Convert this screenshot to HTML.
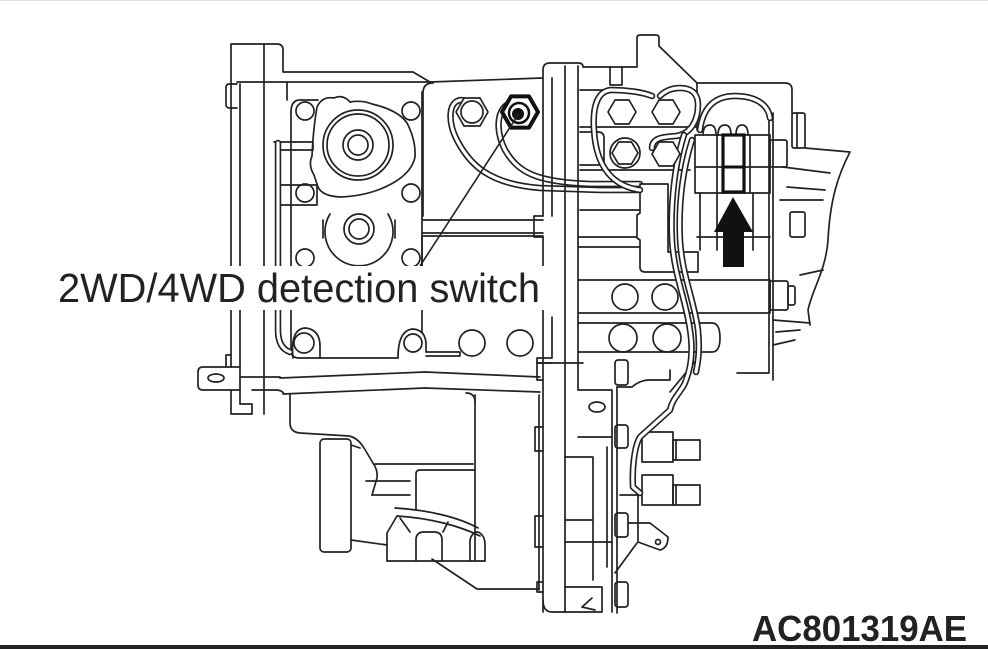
<!DOCTYPE html>
<html><head><meta charset="utf-8"><style>
html,body{margin:0;padding:0;background:#fff;width:988px;height:649px;overflow:hidden}
svg{display:block}
.s{fill:none;stroke:#222;stroke-width:1.7;stroke-linejoin:round;stroke-linecap:round}
.w{fill:#fff;stroke:#222;stroke-width:1.7;stroke-linejoin:round}
.to{fill:none;stroke:#222;stroke-width:6.5;stroke-linecap:round;stroke-linejoin:round}
.ti{fill:none;stroke:#fff;stroke-width:3.2;stroke-linecap:round;stroke-linejoin:round}
</style></head><body>
<svg width="988" height="649" viewBox="0 0 988 649" xmlns="http://www.w3.org/2000/svg">
<rect width="988" height="649" fill="#fff"/>
<line x1="0" y1="0.5" x2="988" y2="0.5" stroke="#ddd" stroke-width="1"/>
<rect x="0" y="645" width="988" height="4" fill="#222"/>

<!-- ===== LEFT HOUSING ===== -->
<g class="s">
<path d="M231,367 V44 H277 Q283,44 283,50 V72 H413 L430,82 L542,78"/>
<path d="M231,390 V414 H252 V404 H240"/>
<path d="M264,44 V414"/>
<path d="M240,84 V404"/>
<path d="M237,82 H420 L430,82"/>
<path d="M287,82 V100"/>
<path d="M237,84 H229 Q226,84 226,88 V104 Q226,108 229,108 H237"/>
<path d="M231,355 H226 V367"/>
<path d="M240,367 H203 Q198,367 198,372 V385 Q198,390 203,390 H240"/>
<ellipse cx="216" cy="378" rx="8" ry="4"/>
<path d="M240,377 H280"/>
<path d="M252,390 H276 Q282,390 284,394"/>
<!-- rails -->
<path d="M280,378 L425,372 L540,377"/>
<path d="M283,394 L425,388 L540,392"/>

<!-- bolt panel -->
<path d="M291,112 Q291,100 300,100 H318"/>
<path d="M291,112 V350 Q291,358 299,358 H398"/>
<path d="M422,92 V333"/>
<path d="M398,358 Q398,330 413,329 Q426,330 426,345 V352 H460 V356 H426"/>
<path d="M293,358 Q290,328 306,328 Q320,330 320,346 V358"/>
<circle cx="304" cy="343" r="10"/>
<circle cx="413" cy="343" r="9"/>
<circle cx="472" cy="343" r="13"/>
<circle cx="520" cy="343" r="13"/>
<circle cx="305" cy="111" r="9"/>
<circle cx="411" cy="111" r="9"/>
<circle cx="305" cy="193" r="9"/>
<circle cx="411" cy="193" r="9"/>
<circle cx="305" cy="258" r="9"/>
<circle cx="411" cy="258" r="9"/>
<!-- clips -->
<path d="M274,142 H313 V150 H281"/>
<path d="M281,185 H317 V205 H281"/>

<!-- gear boss lobed shape -->
<path d="M317,107 Q322,96 334,98 Q343,94 350,102 Q362,100 372,104 Q398,110 407,123 Q416,140 415,157 Q412,172 393,183 Q370,196 340,197 Q322,196 318,187 L314,175 Q308,165 312,156 Q313,130 317,107 Z"/>
<circle cx="358" cy="145" r="35"/>
<circle cx="358" cy="145" r="31"/>
<circle cx="358" cy="145" r="15"/>
<circle cx="358" cy="145" r="10"/>
<!-- lower boss -->
<path d="M330,214 A34,34 0 1 0 388,214"/>
<path d="M323,220 V238 M395,220 V238"/>
<circle cx="359" cy="229" r="15"/>
<circle cx="359" cy="229" r="10"/>

<!-- middle (switch) panel -->
<path d="M423,216 V93 Q423,83 433,83"/>
<path d="M422,220 H543 M422,233 H543"/>
<path d="M422,237 V300 M422,236 H543"/>
<path d="M552,317 V358 H537 V363 H552"/>
</g>

<!-- vertical pipe left -->
<path class="to" d="M278,143 V330 Q278,348 290,352"/>
<path class="ti" d="M278,143 V330 Q278,348 290,352"/>

<!-- tubes from nuts -->
<path class="to" d="M462,100 C448,100 447,122 458,142 C470,164 488,184 540,188 L600,190 L640,190"/>
<path class="ti" d="M462,100 C448,100 447,122 458,142 C470,164 488,184 540,188 L600,190 L640,190"/>
<path class="to" d="M508,104 C496,112 496,132 505,150 C518,172 535,182 590,184 L640,184"/>
<path class="ti" d="M508,104 C496,112 496,132 505,150 C518,172 535,182 590,184 L640,184"/>

<!-- nuts -->
<polygon class="w" points="488,112 480,98 464,98 456,112 464,126 480,126"/>
<circle class="s" cx="472" cy="112" r="11"/>
<polygon points="538,112 529,96.4 511,96.4 502,112 511,127.6 529,127.6" fill="#fff" stroke="#111" stroke-width="4" stroke-linejoin="round"/>
<circle cx="519" cy="113" r="10" fill="#fff" stroke="#111" stroke-width="2.5"/>
<circle cx="518" cy="114" r="6" fill="#111"/>
<!-- leader -->
<line x1="518" y1="115" x2="420" y2="266" stroke="#222" stroke-width="1.6"/>

<!-- ===== CENTRAL COLUMN & RIGHT ===== -->
<g class="s">
<path d="M543,216 V70 Q543,63 550,63 H578 Q583,63 583,67 H637 V38 Q637,35 640,35 H656 Q659,35 659,38 V46 L697,83"/>
<path d="M543,237 V612"/>
<path d="M552,78 V216"/>
<path d="M565,66 V612"/>
<path d="M578,66 V390"/>
<path d="M578,390 H612 V437 H578"/>
<ellipse cx="597" cy="407" rx="8" ry="5"/>
<path d="M612,437 V612"/>
<path d="M607,447 V567"/>
<path d="M593,457 V580 M565,457 H593 M565,520 H593 M565,542 H612"/>
<path d="M565,587 H602 V612 H565"/>
<path d="M582,607 L592,598 M582,607 L595,610"/>
<path d="M543,600 Q543,612 552,612 H565"/>
<!-- nubs left -->
<path d="M543,216 H534 V237 H543"/>
<path d="M543,363 H537 V380 H543 M539,363 H583"/>
<path d="M543,427 H535 V451 H543"/>
<path d="M543,516 H535 V547 H543"/>
<path d="M543,582 H537 V592 H543"/>
<!-- bolt heads right of column -->
<rect x="615" y="360" width="13" height="25" rx="3"/>
<rect x="615" y="425" width="13" height="23" rx="3"/>
<rect x="615" y="513" width="13" height="24" rx="3"/>
<rect x="615" y="582" width="13" height="25" rx="3"/>
<path d="M617,387 V613"/>
<path d="M617,387 H632 Q640,380 650,380 H670 V370"/>
<path d="M620,495 H638 V542 M628,523 H650 L668,537 Q668,548 660,550 L638,542"/>
<circle cx="658" cy="542" r="2.5"/>
<path d="M637,543 L615,573"/>
<path d="M698,358 L670,392"/>
<!-- right connectors -->
<rect x="642" y="432" width="31" height="30"/>
<rect x="673" y="440" width="27" height="20"/>
<path d="M676,440 V460"/>
<rect x="642" y="475" width="31" height="30"/>
<rect x="673" y="485" width="27" height="20"/>
<path d="M676,485 V505"/>

<!-- nut plate lines -->
<path d="M580,90 H610 M610,67 V85 H622 V67"/>
<path d="M580,127 H697"/>
<path d="M580,170 H690"/>
<path d="M580,132 H598 Q604,132 604,138 V165 H580"/>
<path d="M580,210 H640 M578,237 H640 M578,247 H640"/>
<!-- T bracket -->
<path d="M640,184 H668 V252 H698 V272 H645 Q640,272 640,267 V240 L637,238 V215 L640,213 Z" fill="#fff"/>
<!-- bands -->
<path d="M579,280 H770 V313 H579"/>
<circle cx="625" cy="297" r="13"/>
<circle cx="665" cy="297" r="13"/>
<path d="M579,323 H712 Q720,323 720,338 Q720,352 712,352 H579"/>
<circle cx="623" cy="338" r="14"/>
<circle cx="667" cy="338" r="14"/>
<rect x="770" y="281" width="18" height="29" rx="2"/>
<rect x="788" y="286" width="7" height="19" rx="2"/>
<!-- upper right frame -->
<path d="M697,83 H785 Q792,83 792,90 V113"/>
<path d="M697,83 V130"/>
<path d="M769,113 V373 H737 M773,113 V380"/>
<rect x="792" y="113" width="13" height="35" rx="2"/>
<path d="M797,113 V148"/>
<path d="M805,148 L850,152 C838,175 830,200 828,240 C826,270 812,290 808,310 L810,325"/>
<path d="M783,167 L830,173 M787,187 L825,190 M780,200 L823,200"/>
<rect x="790" y="212" width="15" height="25" rx="2"/>
<path d="M800,275 L823,270 M773,320 L810,323 M776,332 L800,330 M773,345 L795,340"/>
<rect x="770" y="140" width="17" height="27" rx="2"/>
<!-- connector -->
<rect x="695" y="135" width="75" height="58"/>
<path d="M717,135 V193 M750,135 V193 M695,167 H770"/>
<path d="M700,193 V250 M717,193 V250 M753,193 V250 M697,237 H770"/>
<!-- small loops on top -->
<path d="M703,135 Q703,125 710,125 Q716,125 716,135 M718,135 Q718,125 725,125 Q731,125 731,135 M736,135 Q736,125 742,125 Q748,125 748,135"/>
</g>
<!-- bold connector and arrow -->
<rect x="723" y="135" width="21" height="57" fill="none" stroke="#111" stroke-width="3.2"/>
<line x1="723" y1="167" x2="744" y2="167" stroke="#111" stroke-width="3"/>
<polygon points="733,197 714,232 723,232 723,267 744,267 744,232 753,232" fill="#111"/>

<!-- right tubes -->
<path class="to" d="M640,190 C612,186 596,166 594,130 C592,102 600,90 612,90 C626,90 642,92 652,96"/>
<path class="ti" d="M640,190 C612,186 596,166 594,130 C592,102 600,90 612,90 C626,90 642,92 652,96"/>
<path class="to" d="M652,148 C652,138 662,137 676,136 C691,134 698,120 698,105 C698,92 690,88 680,88 C670,88 664,92 660,96"/>
<path class="ti" d="M652,148 C652,138 662,137 676,136 C691,134 698,120 698,105 C698,92 690,88 680,88 C670,88 664,92 660,96"/>
<path class="to" d="M700,130 C703,106 716,96 735,96 C755,96 768,104 770,118"/>
<path class="ti" d="M700,130 C703,106 716,96 735,96 C755,96 768,104 770,118"/>
<path class="to" d="M684,135 C676,160 670,200 672,240 C674,275 686,300 690,330 C694,355 690,372 684,385 C678,395 672,400 670,410 L640,437 C634,447 632,470 633,487 L640,493"/>
<path class="ti" d="M684,135 C676,160 670,200 672,240 C674,275 686,300 690,330 C694,355 690,372 684,385 C678,395 672,400 670,410 L640,437 C634,447 632,470 633,487 L640,493"/>
<path class="to" d="M692,140 C684,165 678,200 680,240 C682,275 694,300 698,330 C700,350 698,362 696,372"/>
<path class="ti" d="M692,140 C684,165 678,200 680,240 C682,275 694,300 698,330 C700,350 698,362 696,372"/>

<!-- right nuts -->
<g>
<polygon class="w" points="636,112 629,100 615,100 608,112 615,124 629,124"/>
<polygon class="w" points="680,112 673,100 659,100 652,112 659,124 673,124"/>
<circle class="w" cx="625" cy="153" r="15"/>
<polygon class="w" points="638,153 631.5,142 618.5,142 612,153 618.5,164 631.5,164"/>
<polygon class="w" points="680,154 673,142 659,142 652,154 659,166 673,166"/>
</g>

<!-- ===== LOWER HOUSING ===== -->
<g class="s">
<path d="M290,395 V423 Q290,432 300,433 L349,436 Q358,438 364,448 L373,463 Q378,470 377,478 L372,495"/>
<path d="M375,464 H473 M366,481 H410 M372,495 H410"/>
<path d="M416,509 V474 Q416,470 420,470 H475"/>
<rect x="320" y="439" width="31" height="113" rx="4"/>
<path d="M351,540 L387,545"/>
<path d="M475,395 V561"/>
<path d="M466,393 Q475,393 475,402"/>
<path d="M387,561 V533 L397,516"/>
<path d="M395,508 C430,510 460,518 478,528"/>
<path d="M397,516 C430,518 460,526 480,536"/>
<path d="M416,561 V540 Q416,532 424,532 H434 Q442,532 442,540 V561"/>
<path d="M470,561 V540 Q472,532 478,532 Q485,535 485,545 V561"/>
<path d="M400,518 L410,532 M448,522 L443,532"/>
<path d="M387,561 H485"/>
<path d="M432,559 L477,589 H539"/>
<path d="M539,395 V590"/>
<path d="M351,445 L360,448"/>
</g>

<!-- text label with white backing -->
<rect x="52" y="266" width="494" height="44" fill="#fff"/>
<text x="58" y="302" font-family="'Liberation Sans', Arial, sans-serif" font-size="41" textLength="482" lengthAdjust="spacingAndGlyphs" fill="#222">2WD/4WD detection switch</text>

<text x="752" y="641" font-family="'Liberation Sans', Arial, sans-serif" font-weight="bold" font-size="36" textLength="215" lengthAdjust="spacingAndGlyphs" fill="#222">AC801319AE</text>
</svg>
</body></html>
